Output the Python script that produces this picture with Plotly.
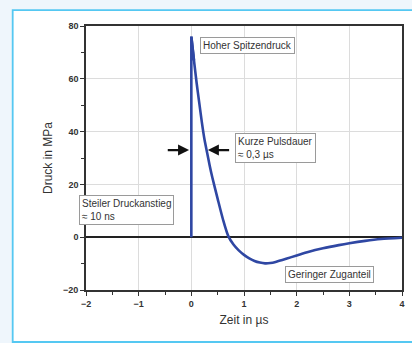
import plotly.graph_objects as go

# Data
zeit = [0, 0, 0.05, 0.1, 0.15, 0.2, 0.25, 0.3, 0.35, 0.4, 0.5, 0.6, 0.7, 0.8, 0.9,
        1.0, 1.1, 1.2, 1.3, 1.4, 1.5, 1.6, 1.8, 2.0, 2.2, 2.5, 2.8, 3.0, 3.3, 3.6, 4.0]
druck = [0, 76, 67, 58.5, 51, 43.5, 37, 32, 27, 22.5, 14.5, 6.8, 0.5, -2.8, -5.0,
         -6.7, -8.0, -9.0, -9.6, -9.9, -9.8, -9.4, -8.2, -6.9, -5.7, -4.2, -3.0, -2.3, -1.4, -0.7, -0.2]

x_ticks = [-2, -1, 0, 1, 2, 3, 4]
y_ticks = [-20, 0, 20, 40, 60, 80]

FONT = "Liberation Sans, Arial, sans-serif"
BLUE = "#2f47a3"

fig = go.Figure()
# steep rise (linear) and decay (smoothed), from the same series
fig.add_trace(go.Scatter(x=zeit[:3], y=druck[:3], mode="lines",
                         line=dict(color=BLUE, width=2.6),
                         showlegend=False, hoverinfo="skip"))
fig.add_trace(go.Scatter(x=zeit[1:], y=druck[1:], mode="lines",
                         line=dict(color=BLUE, width=2.6, shape="spline", smoothing=0.7),
                         showlegend=False, hoverinfo="skip"))

axis_common = dict(
    showline=True, mirror=True, linecolor="#333333", linewidth=1.6,
    ticks="outside", ticklen=4, tickwidth=1.4, tickcolor="#333333",
    showgrid=True, gridcolor="#dcdcdc", gridwidth=1,
    tickfont=dict(family=FONT, size=9, color="#333333", weight="bold"),
)

fig.update_xaxes(range=[-2, 4], tickvals=x_ticks, zeroline=False,
                 minor=dict(dtick=0.5, tick0=0, ticks="outside", ticklen=3,
                            tickcolor="#333333", showgrid=False),
                 title=dict(text="Zeit in µs", font=dict(family=FONT, size=12, color="#333333"),
                            standoff=8),
                 **axis_common)
fig.update_yaxes(range=[-20, 80], tickvals=y_ticks, zeroline=True,
                 zerolinecolor="#222222", zerolinewidth=1.8,
                 minor=dict(dtick=10, tick0=0, ticks="outside", ticklen=3,
                            tickcolor="#333333", showgrid=False),
                 title=dict(text="Druck in MPa", font=dict(family=FONT, size=12, color="#333333"),
                            standoff=8),
                 **axis_common)

# white panel with cyan border (in paper coords, extending beyond the plot area)
fig.add_shape(type="rect", xref="paper", yref="paper",
              x0=-0.232, x1=1.06, y0=-0.197, y1=1.06,
              line=dict(color="#55c8f2", width=1.8), fillcolor="white", layer="below")

box = dict(bordercolor="#9a9a9a", borderwidth=1, bgcolor="white", borderpad=2,
           font=dict(family=FONT, size=10, color="#333333"), showarrow=False,
           xref="paper", yref="paper", xanchor="left", yanchor="top", align="left")

fig.add_annotation(text="Hoher Spitzendruck", x=0.3605, y=0.958, **box)
fig.add_annotation(text="Kurze Pulsdauer<br>≈ 0,3 µs", x=0.470, y=0.5947, **box)
fig.add_annotation(text="Steiler Druckanstieg<br>≈ 10 ns", x=-0.0219, y=0.3598, **box)
fig.add_annotation(text="Geringer Zuganteil", x=0.630, y=0.0909, **box)

arrow = dict(showarrow=True, arrowhead=2, arrowsize=1, arrowwidth=2.2, arrowcolor="#111111",
             xref="x", yref="y", axref="x", ayref="y", text="")
fig.add_annotation(x=-0.043, y=33, ax=-0.476, ay=33, **arrow)
fig.add_annotation(x=0.314, y=33, ax=0.746, ay=33, **arrow)

fig.update_layout(
    width=412, height=343,
    margin=dict(l=86, r=7, t=26, b=53),
    paper_bgcolor="#eff6fc", plot_bgcolor="white",
    font=dict(family=FONT),
)

fig.write_html("out.html", config={"displayModeBar": False},
               post_script="document.body.style.margin='0';document.body.style.overflow='hidden';"
                           "document.body.style.background='#eff6fc';")
